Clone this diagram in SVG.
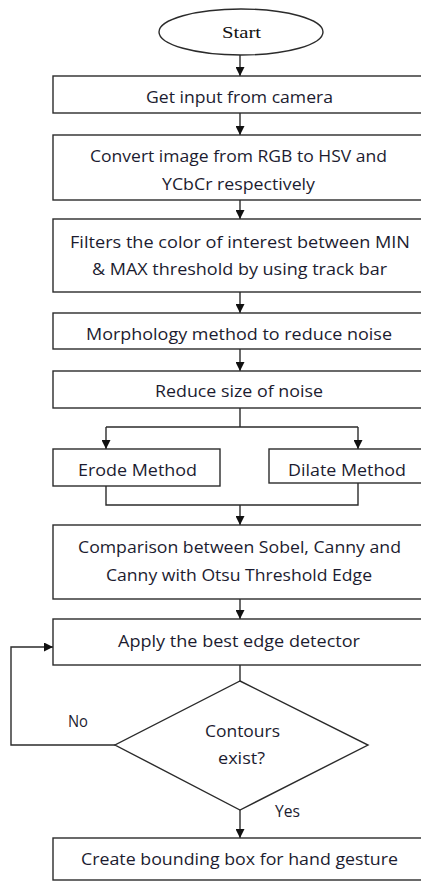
<svg xmlns="http://www.w3.org/2000/svg" width="421" height="881" viewBox="0 0 421 881">
<defs>
<style>
.box{fill:#fff;stroke:#2b2b2b;stroke-width:1.4}
.ln{fill:none;stroke:#2b2b2b;stroke-width:1.4}
.t{font-family:"Open Sans","Liberation Sans",sans-serif;font-size:16.5px;fill:#1c1c30}
.s{font-family:"Liberation Serif",serif;font-size:17px;fill:#111}
</style>
<marker id="ah" viewBox="0 0 10 10" refX="10" refY="5" markerWidth="9" markerHeight="9" markerUnits="userSpaceOnUse" orient="auto">
<path d="M0,0 L10,5 L0,10 z" fill="#111"/>
</marker>
</defs>
<rect width="421" height="881" fill="#fff"/>
<g id="connectors">
<path class="ln" d="M240,55 V76" marker-end="url(#ah)"/>
<path class="ln" d="M240,113 V135" marker-end="url(#ah)"/>
<path class="ln" d="M240,200 V219" marker-end="url(#ah)"/>
<path class="ln" d="M240,292 V313" marker-end="url(#ah)"/>
<path class="ln" d="M240,349 V371" marker-end="url(#ah)"/>
<path class="ln" d="M240,408 V427 M106,427 H358"/>
<path class="ln" d="M106,427 V449" marker-end="url(#ah)"/>
<path class="ln" d="M358,427 V449" marker-end="url(#ah)"/>
<path class="ln" d="M106,486 V505 H358 V483"/>
<path class="ln" d="M240,505 V525" marker-end="url(#ah)"/>
<path class="ln" d="M240,599 V619" marker-end="url(#ah)"/>
<path class="ln" d="M240,665 V681"/>
<path class="ln" d="M240,810 V838" marker-end="url(#ah)"/>
<path class="ln" d="M115,745 H11 V647 H53" marker-end="url(#ah)"/>
<text class="t" x="68" y="727" textLength="20" lengthAdjust="spacingAndGlyphs">No</text>
<text class="t" x="275" y="817" textLength="25" lengthAdjust="spacingAndGlyphs">Yes</text>
</g>
<g id="start">
<ellipse class="box" cx="241" cy="32" rx="82" ry="23"/>
<text class="s" x="222" y="38" textLength="39" lengthAdjust="spacingAndGlyphs">Start</text>
</g>
<g id="input">
<rect class="box" x="53" y="76" width="380" height="37"/>
<text class="t" x="146" y="103" textLength="187" lengthAdjust="spacingAndGlyphs">Get input from camera</text>
</g>
<g id="convert">
<rect class="box" x="53" y="135" width="380" height="65"/>
<text class="t" x="90" y="162" textLength="297" lengthAdjust="spacingAndGlyphs">Convert image from RGB to HSV and</text>
<text class="t" x="162" y="190" textLength="153" lengthAdjust="spacingAndGlyphs">YCbCr respectively</text>
</g>
<g id="filter">
<rect class="box" x="53" y="219" width="380" height="73"/>
<text class="t" x="70" y="248" textLength="340" lengthAdjust="spacingAndGlyphs">Filters the color of interest between MIN</text>
<text class="t" x="92" y="275" textLength="295" lengthAdjust="spacingAndGlyphs">&amp; MAX threshold by using track bar</text>
</g>
<g id="morph">
<rect class="box" x="53" y="313" width="380" height="36"/>
<text class="t" x="86" y="340" textLength="306" lengthAdjust="spacingAndGlyphs">Morphology method to reduce noise</text>
</g>
<g id="reduce">
<rect class="box" x="53" y="371" width="380" height="37"/>
<text class="t" x="155" y="397" textLength="168" lengthAdjust="spacingAndGlyphs">Reduce size of noise</text>
</g>
<g id="erode">
<rect class="box" x="53" y="449" width="167" height="37"/>
<text class="t" x="78" y="476" textLength="119" lengthAdjust="spacingAndGlyphs">Erode Method</text>
</g>
<g id="dilate">
<rect class="box" x="269" y="449" width="164" height="34"/>
<text class="t" x="288" y="476" textLength="118" lengthAdjust="spacingAndGlyphs">Dilate Method</text>
</g>
<g id="compare">
<rect class="box" x="53" y="525" width="380" height="74"/>
<text class="t" x="78" y="553" textLength="323" lengthAdjust="spacingAndGlyphs">Comparison between Sobel, Canny and</text>
<text class="t" x="106" y="581" textLength="266" lengthAdjust="spacingAndGlyphs">Canny with Otsu Threshold Edge</text>
</g>
<g id="apply">
<rect class="box" x="53" y="619" width="380" height="46"/>
<text class="t" x="118" y="647" textLength="242" lengthAdjust="spacingAndGlyphs">Apply the best edge detector</text>
</g>
<g id="decision">
<path class="box" d="M240,681 L368,745 L240,810 L115,745 Z"/>
<text class="t" x="205" y="737" textLength="75" lengthAdjust="spacingAndGlyphs">Contours</text>
<text class="t" x="218" y="764" textLength="47" lengthAdjust="spacingAndGlyphs">exist?</text>
</g>
<g id="bbox">
<rect class="box" x="53" y="838" width="380" height="42"/>
<text class="t" x="81" y="865" textLength="317" lengthAdjust="spacingAndGlyphs">Create bounding box for hand gesture</text>
</g>
</svg>
